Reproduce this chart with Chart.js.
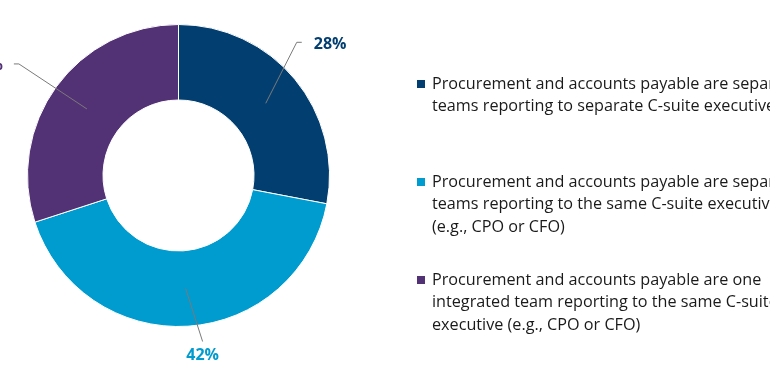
<!DOCTYPE html>
<html>
<head>
<meta charset="utf-8">
<script src="https://cdn.jsdelivr.net/npm/chart.js@4"></script>
<style>
  html, body { margin: 0; padding: 0; background: #fff; overflow: hidden; }
  #wrap { width: 770px; height: 368px; }
</style>
</head>
<body>
<div id="wrap"><canvas id="orgChart" width="770" height="368"></canvas></div>
<script>
const categories = [
    ["Procurement and accounts payable are separate", "teams reporting to separate C-suite executives"],
    ["Procurement and accounts payable are separate", "teams reporting to the same C-suite executive", "(e.g., CPO or CFO)"],
    ["Procurement and accounts payable are one", "integrated team reporting to the same C-suite", "executive (e.g., CPO or CFO)"]
];
const shares = [28, 42, 30];
const sliceColors = ['#023F70', '#009BCF', '#533175'];

// where each percentage label sits, relative to the middle of its slice
const labelOffsets = [
    { dx: 31, dy: -61, tail: 5, align: 'left' },
    { dx: 17, dy: 53, tail: 0, align: 'center' },
    { dx: -68, dy: -45, tail: -5, align: 'right' }
];

const sliceLabels = {
    id: 'sliceLabels',
    afterDatasetsDraw(chart) {
        const ctx = chart.ctx;
        const arcs = chart.getDatasetMeta(0).data;
        ctx.save();
        arcs.forEach((arc, i) => {
            const p = arc.tooltipPosition();
            const o = labelOffsets[i];
            const ex = p.x + o.dx, ey = p.y + o.dy;
            ctx.strokeStyle = '#7a7a7a';
            ctx.lineWidth = 1;
            ctx.beginPath();
            ctx.moveTo(p.x, p.y);
            ctx.lineTo(ex, ey);
            if (o.tail) ctx.lineTo(ex + o.tail, ey);
            ctx.stroke();

            ctx.fillStyle = sliceColors[i];
            ctx.font = 'bold 16px "Open Sans"';
            ctx.textBaseline = 'middle';
            let tx = ex, ty = ey;
            if (o.align === 'left') { ctx.textAlign = 'left'; tx = ex + o.tail + 12; ty = ey + 2; }
            else if (o.align === 'right') { ctx.textAlign = 'right'; tx = ex + o.tail - 11; ty = ey + 2; }
            else { ctx.textAlign = 'center'; ty = ey + 14; }
            ctx.fillText(shares[i] + '%', tx, ty);
        });
        ctx.restore();
    }
};

const sideLegend = {
    id: 'sideLegend',
    afterDraw(chart) {
        const ctx = chart.ctx;
        ctx.save();
        ctx.font = '16.2px "Open Sans"';
        ctx.textBaseline = 'middle';
        ctx.textAlign = 'left';
        categories.forEach((lines, i) => {
            const top = 84 + i * 98;
            ctx.fillStyle = sliceColors[i];
            ctx.fillRect(417, top - 4, 8, 8);
            ctx.fillStyle = '#1a1a1a';
            lines.forEach((line, j) => {
                ctx.fillText(line, 432, top + j * 22.5);
            });
        });
        ctx.restore();
    }
};

function drawDoughnut() {
    const ctx = document.getElementById('orgChart').getContext('2d');
    new Chart(ctx, {
        type: 'doughnut',
        data: {
            labels: categories.map(c => c.join(' ')),
            datasets: [{
                data: shares,
                backgroundColor: sliceColors,
                borderColor: '#ffffff',
                borderWidth: 1
            }]
        },
        options: {
            responsive: false,
            animation: false,
            cutout: '50%',
            layout: { padding: { left: 27, right: 440, top: 24, bottom: 41 } },
            plugins: {
                legend: { display: false },
                tooltip: { enabled: false }
            }
        },
        plugins: [sliceLabels, sideLegend]
    });
}

document.addEventListener('DOMContentLoaded', () => {
    drawDoughnut();
});
</script>
</body>
</html>
